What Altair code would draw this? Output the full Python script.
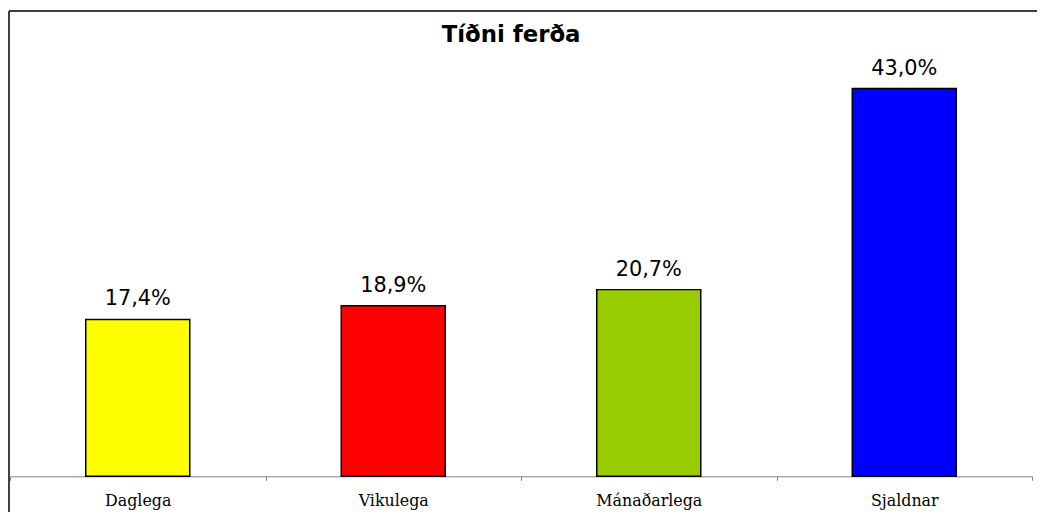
import altair as alt
import pandas as pd

categories = ["Daglega", "Vikulega", "Mánaðarlega", "Sjaldnar"]
values = [17.4, 18.9, 20.7, 43.0]
labels = ["17,4%", "18,9%", "20,7%", "43,0%"]
colors = ["#FFFF00", "#FF0000", "#99CC00", "#0000FF"]
title_text = ["Tíðni ferða"]

df = pd.DataFrame({"cat": categories, "val": values, "lab": labels})
tdf = pd.DataFrame({"t": title_text})

W = 1030
H = 469

x = alt.X("cat:N", sort=categories, title=None,
          scale=alt.Scale(paddingInner=0, paddingOuter=0),
          axis=alt.Axis(labelAngle=0, tickBand="extent", tickSize=4,
                        tickColor="#808080", domainColor="#808080",
                        labelFont="DejaVu Serif", labelFontSize=16,
                        labelColor="#000000", labelBaseline="alphabetic",
                        labelPadding=25))
y = alt.Y("val:Q", title=None, scale=alt.Scale(domain=[0, 51.6], nice=False),
          axis=None)

base = alt.Chart(df)

bars = base.mark_bar(width=alt.RelativeBandSize(0.407), stroke="#000000",
                     strokeWidth=1.5).encode(
    x=x, y=y,
    color=alt.Color("cat:N", scale=alt.Scale(domain=categories, range=colors),
                    legend=None),
)

text = base.mark_text(font="DejaVu Sans", fontSize=21, baseline="alphabetic",
                      dy=-14, color="#000000").encode(
    x=x, y=y, text="lab:N"
)

title = alt.Chart(tdf).mark_text(font="DejaVu Sans", fontSize=23,
                                 fontWeight="bold", baseline="alphabetic",
                                 color="#000000").encode(
    x=alt.value(505), y=alt.value(31), text="t:N"
)

top_border = alt.Chart(tdf).mark_rule(color="#000000", strokeWidth=1.5).encode(
    x=alt.value(-1), x2=alt.value(W + 10), y=alt.value(0)
)
left_border = alt.Chart(tdf).mark_rule(color="#000000", strokeWidth=1.5).encode(
    x=alt.value(-1), y=alt.value(0), y2=alt.value(H + 60)
)

chart = alt.layer(bars, text, title, top_border, left_border).properties(
    width=W, height=H,
    autosize=alt.AutoSizeParams(type="none"),
    padding={"left": 2, "top": 1, "right": 5, "bottom": 34},
).configure_view(strokeWidth=0)

chart.save("out.html", embed_options={"renderer": "svg", "actions": False})
